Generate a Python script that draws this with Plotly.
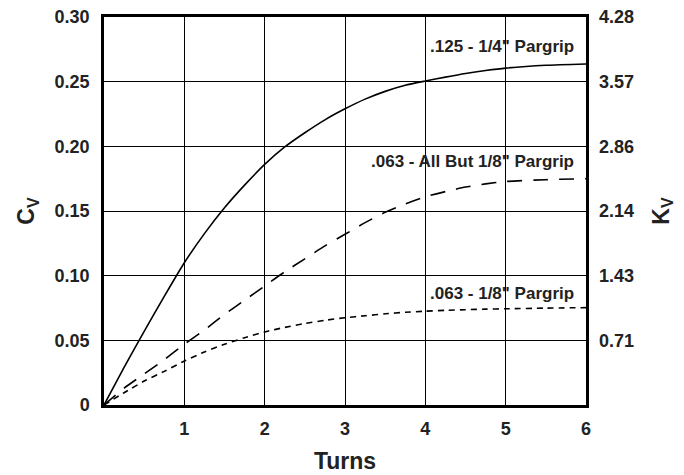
import plotly.graph_objects as go

turns = [0, 0.25, 0.5, 0.75, 1.0, 1.25, 1.5, 1.75, 2.0, 2.25, 2.5, 2.75, 3.0,
         3.25, 3.5, 3.75, 4.0, 4.25, 4.5, 4.75, 5.0, 5.5, 6.0]
cv_125_quarter = [0, 0.029, 0.057, 0.084, 0.110, 0.1325, 0.1525, 0.170, 0.186, 0.1995,
                  0.2105, 0.2205, 0.229, 0.2365, 0.2425, 0.2472, 0.2505, 0.2535, 0.2563,
                  0.2586, 0.2605, 0.2627, 0.2637]
cv_063_allbut = [0, 0.013, 0.024, 0.035, 0.047, 0.058, 0.070, 0.081, 0.092, 0.103,
                 0.113, 0.123, 0.132, 0.141, 0.149, 0.1555, 0.161, 0.165, 0.1685,
                 0.171, 0.1728, 0.1742, 0.175]
cv_063_eighth = [0, 0.0095, 0.0185, 0.026, 0.034, 0.041, 0.047, 0.052, 0.0565, 0.060,
                 0.063, 0.0655, 0.0675, 0.069, 0.0705, 0.0717, 0.0725, 0.0732, 0.0737,
                 0.0741, 0.0744, 0.0749, 0.0753]

x_ticks = [1, 2, 3, 4, 5, 6]
cv_ticks = [0, 0.05, 0.10, 0.15, 0.20, 0.25, 0.30]
cv_labels = ["0", "0.05", "0.10", "0.15", "0.20", "0.25", "0.30"]
kv_ticks = [0.05, 0.10, 0.15, 0.20, 0.25, 0.30]
kv_labels = ["0.71", "1.43", "2.14", "2.86", "3.57", "4.28"]
series_names = ['.125 - 1/4" Pargrip', '.063 - All But 1/8" Pargrip', '.063 - 1/8" Pargrip']

FONT = "Liberation Sans, Arial, sans-serif"
TXT = "#222"

fig = go.Figure()
fig.add_trace(go.Scatter(x=turns, y=cv_125_quarter, mode="lines", name=series_names[0],
                         line=dict(color="black", width=1.6, shape="spline", smoothing=0.6)))
fig.add_trace(go.Scatter(x=turns, y=cv_063_allbut, mode="lines", name=series_names[1],
                         line=dict(color="black", width=1.6, dash="15px,11px",
                                   shape="spline", smoothing=0.6)))
fig.add_trace(go.Scatter(x=turns, y=cv_063_eighth, mode="lines", name=series_names[2],
                         line=dict(color="black", width=1.6, dash="6px,5px",
                                   shape="spline", smoothing=0.6)))
# invisible trace so the right axis is drawn
fig.add_trace(go.Scatter(x=[0], y=[0], yaxis="y2", mode="markers",
                         marker=dict(opacity=0), showlegend=False, hoverinfo="skip"))

label_pos = [(turns[-1], cv_125_quarter[-1] + 0.0135),
             (turns[-1], cv_063_allbut[-1] + 0.013),
             (turns[-1], cv_063_eighth[-1] + 0.011)]
for name, (lx, ly) in zip(series_names, label_pos):
    fig.add_annotation(x=lx, y=ly, xref="x", yref="y", text=name, showarrow=False,
                       xanchor="right", yanchor="middle", xshift=-10,
                       font=dict(family=FONT, size=17, color=TXT, weight="bold"))

fig.update_layout(
    width=684, height=475,
    margin=dict(l=104, r=98, t=17, b=70, autoexpand=False),
    paper_bgcolor="white", plot_bgcolor="white",
    showlegend=False,
    font=dict(family=FONT, color=TXT),
    xaxis=dict(range=[0, 6], tickvals=x_ticks, showgrid=True, gridcolor="black",
               gridwidth=1, zeroline=False, showline=True, linecolor="black",
               linewidth=2.5, mirror=True, ticks="", ticklabelstandoff=6,
               automargin=False,
               tickfont=dict(family=FONT, size=18, color=TXT, weight="bold"),
               title=dict(text="Turns", standoff=15,
                          font=dict(family=FONT, size=23, color=TXT, weight="bold"))),
    yaxis=dict(range=[0, 0.30], tickvals=cv_ticks, ticktext=cv_labels, showgrid=True,
               gridcolor="black", gridwidth=1, zeroline=False, showline=True,
               linecolor="black", linewidth=2.5, mirror=True, ticks="",
               ticklabelstandoff=8, automargin=False,
               tickfont=dict(family=FONT, size=18, color=TXT, weight="bold"),
               title=dict(text="C<sub>V</sub>", standoff=14,
                          font=dict(family=FONT, size=23, color=TXT, weight="bold"))),
    yaxis2=dict(range=[0, 0.30], tickvals=kv_ticks, ticktext=kv_labels, overlaying="y",
                side="right", showgrid=False, zeroline=False, ticks="",
                ticklabelstandoff=12, automargin=False,
                tickfont=dict(family=FONT, size=18, color=TXT, weight="bold"),
                title=dict(text="K<sub>V</sub>", standoff=19,
                           font=dict(family=FONT, size=23, color=TXT, weight="bold"))),
)

fig.write_html("out.html", config={"displayModeBar": False},
               post_script="document.body.style.margin='0px';document.body.style.overflow='hidden';")
